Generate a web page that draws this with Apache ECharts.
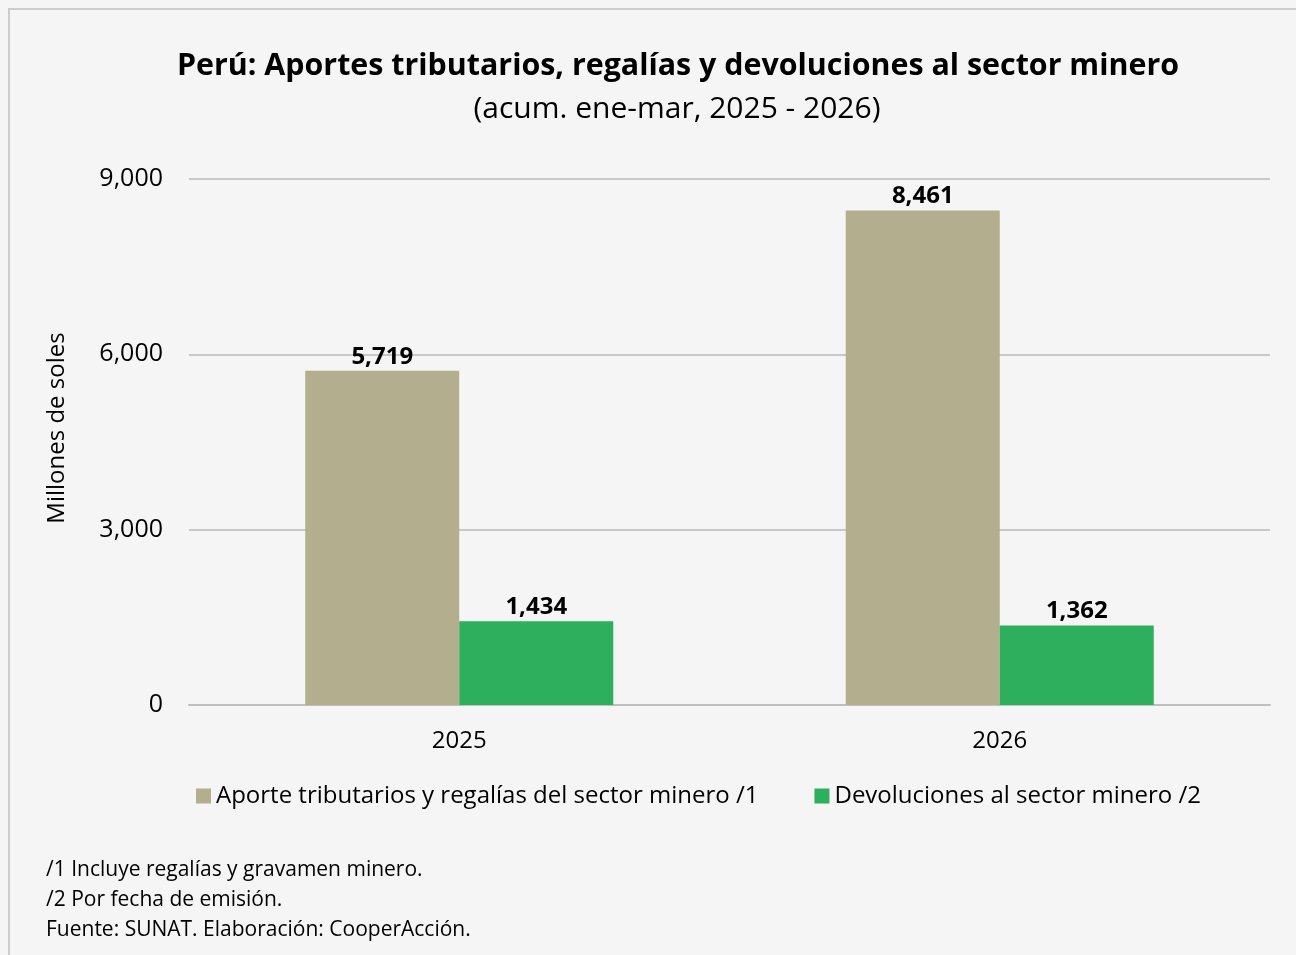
<!DOCTYPE html>
<html><head><meta charset="utf-8">
<script src="https://cdn.jsdelivr.net/npm/echarts@6/dist/echarts.min.js"></script>
<style>html,body{margin:0;padding:0;background:#f4f5f4}#c{width:1296px;height:955px}</style>
</head><body><div id="c"></div>
<script>
const categories = ['2025', '2026'];
const aportes = [5719, 8461];
const devoluciones = [1434, 1362];
const seriesNames = ['Aporte tributarios y regalías del sector minero /1', 'Devoluciones al sector minero /2'];
const yTicks = [0, 3000, 6000, 9000];
const notes = ['/1 Incluye regalías y gravamen minero.', '/2 Por fecha de emisión.', 'Fuente: SUNAT. Elaboración: CooperAcción.'];

const FONT = '"Open Sans", "Noto Sans", sans-serif';
const chart = echarts.init(document.getElementById('c'));
const fmt = v => v.toLocaleString('en-US');
const labelCfg = {show: true, position: 'top', distance: 2, color: '#000', fontWeight: 'bold', fontSize: 24, fontFamily: FONT, formatter: p => fmt(p.value)};
chart.setOption({
  backgroundColor: '#f4f5f4',
  animation: false,
  textStyle: {fontFamily: FONT},
  title: [{
    text: 'Perú: Aportes tributarios, regalías y devoluciones al sector minero',
    left: 673, top: 46, textAlign: 'center',
    textStyle: {fontSize: 30.4, fontWeight: 'bold', color: '#000', fontFamily: FONT}
  }, {
    text: '(acum. ene-mar, 2025 - 2026)',
    left: 672, top: 89, textAlign: 'center',
    textStyle: {fontSize: 30, fontWeight: 'normal', color: '#000', fontFamily: FONT}
  }],
  grid: {left: 189, right: 26, top: 179, bottom: 250, containLabel: false},
  legend: {
    data: seriesNames, top: 784, left: 196, itemWidth: 15, itemHeight: 15, itemGap: 56,
    icon: 'rect', padding: 0,
    textStyle: {fontSize: 24, color: '#000', fontFamily: FONT, padding: [0, 0, 0, 0]}
  },
  xAxis: {
    type: 'category', data: categories,
    axisLine: {lineStyle: {color: '#bfbfbf', width: 2}}, axisTick: {show: false},
    axisLabel: {fontSize: 24, color: '#000', margin: 24, fontFamily: FONT}
  },
  yAxis: {
    type: 'value', min: 0, max: 9000, interval: 3000,
    axisLine: {show: false}, axisTick: {show: false},
    splitLine: {lineStyle: {color: '#c8c8c8', width: 2}},
    axisLabel: {fontSize: 25, color: '#000', margin: 26, fontFamily: FONT, formatter: v => fmt(v)}
  },
  series: [{
    name: seriesNames[0], type: 'bar', data: aportes, barWidth: 154, barGap: '0%',
    itemStyle: {color: '#b2ae8e'}, label: labelCfg
  }, {
    name: seriesNames[1], type: 'bar', data: devoluciones, barWidth: 154,
    itemStyle: {color: '#2daf5e'}, label: labelCfg
  }],
  graphic: [{
    type: 'rect', shape: {x: 9, y: 9, width: 1400, height: 1000},
    style: {fill: 'none', stroke: '#cccccc', lineWidth: 2}, silent: true, z: -1
  }, {
    type: 'text', x: 57, y: 428, rotation: Math.PI / 2,
    style: {text: 'Millones de soles', fontSize: 24, fill: '#000', fontFamily: FONT, align: 'center', verticalAlign: 'middle'}
  }].concat(notes.map((t, i) => ({
    type: 'text', left: 46, top: 860 + i * 30,
    style: {text: t, fontSize: 21, fill: '#000', fontFamily: FONT}
  })))
});
</script></body></html>
